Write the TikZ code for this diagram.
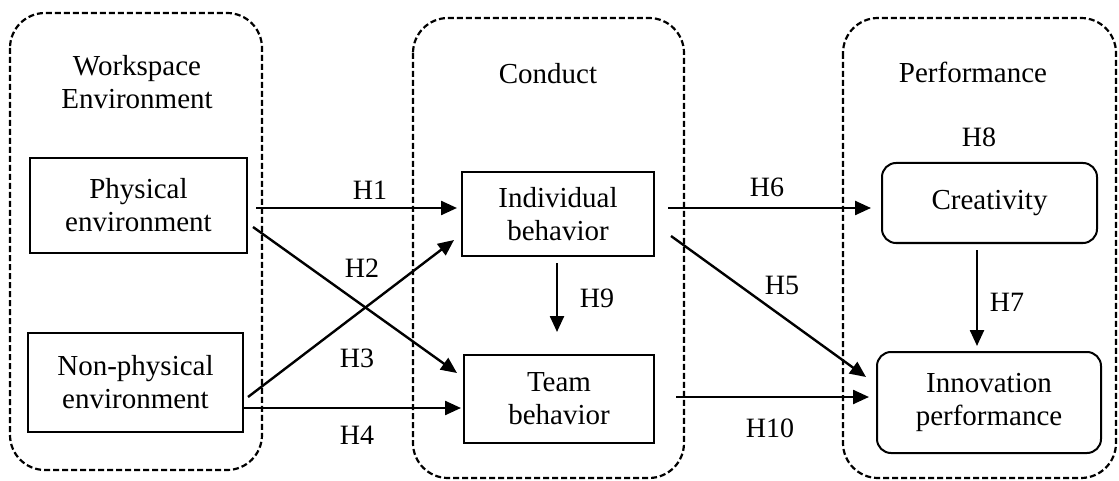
\documentclass[tikz,border=0pt]{standalone}
\usepackage{fontspec}
\setmainfont{Liberation Serif}
\usetikzlibrary{arrows.meta}
\begin{document}
\begin{tikzpicture}[x=1pt,y=-1pt,
  every node/.style={font=\fontsize{29}{33}\selectfont, align=center, inner sep=0pt},
  group/.style={draw, line width=2.2pt, dash pattern=on 6pt off 3pt, rounded corners=35pt},
  cbox/.style={draw, line width=2pt},
  arr/.style={line width=2.4pt, -{Triangle[length=16pt,width=14pt]}},
  hyp/.style={font=\fontsize{28}{30}\selectfont}]
\useasboundingbox (0,0) rectangle (1119,481);

% dashed groups
\draw[group] (10,13) rectangle (262,470);
\draw[group] (413,18) rectangle (684,478);
\draw[group] (843,18) rectangle (1116,478);

% group titles
\node (tw) at (137,82) {Workspace\\Environment};
\node (tc) at (548,74) {Conduct};
\node (tp) at (973,72) {Performance};

% constructs
\node[cbox, minimum width=217pt, minimum height=95pt] (phys) at (138.5,205.5) {Physical\\environment};
\node[cbox, minimum width=215pt, minimum height=99pt] (nphys) at (135.5,382.5) {Non-physical\\environment};
\node[cbox, minimum width=192pt, minimum height=84pt] (ind) at (558,214) {Individual\\behavior};
\node[cbox, minimum width=190pt, minimum height=88pt] (team) at (559,399) {Team\\behavior};
\node[cbox, rounded corners=14pt, minimum width=215pt, minimum height=80pt] (crea) at (989.5,203) {Creativity};
\node[cbox, rounded corners=14pt, minimum width=224pt, minimum height=101pt] (innov) at (989,402.5) {Innovation\\performance};

% hypothesised paths
\draw[arr] ([shift={(8,2.5)}]phys.east) -- ([shift={(-4,-6)}]ind.west);
\draw[arr] ([shift={(5,21.5)}]phys.east) -- ([shift={(-6,-26)}]team.west);
\draw[arr] ([shift={(4,14.5)}]nphys.east) -- ([shift={(-7,26)}]ind.west);
\draw[arr] ([shift={(0,25.5)}]nphys.east) -- ([shift={(-2,9)}]team.west);
\draw[arr] ([shift={(-1,6)}]ind.south) -- ([shift={(-2,-22)}]team.north);
\draw[arr] ([shift={(13,-6)}]ind.east) -- ([shift={(-10,5)}]crea.west);
\draw[arr] ([shift={(16,22)}]ind.east) -- ([shift={(-10,-25.5)}]innov.west);
\draw[arr] ([shift={(21,-2)}]team.east) -- ([shift={(-7,-5.5)}]innov.west);
\draw[arr] ([shift={(-12.5,6)}]crea.south) -- ([shift={(-12,-5)}]innov.north);

% hypothesis labels
\node[hyp] (h1) at (370,190) {H1};
\node[hyp] (h2) at (362,268) {H2};
\node[hyp] (h3) at (357,358) {H3};
\node[hyp] (h4) at (357,435) {H4};
\node[hyp] (h5) at (782,285) {H5};
\node[hyp] (h6) at (767,187) {H6};
\node[hyp] (h7) at (1007,302) {H7};
\node[hyp] (h8) at (979,137) {H8};
\node[hyp] (h9) at (597,298) {H9};
\node[hyp] (h10) at (770,428) {H10};
\end{tikzpicture}
\end{document}
